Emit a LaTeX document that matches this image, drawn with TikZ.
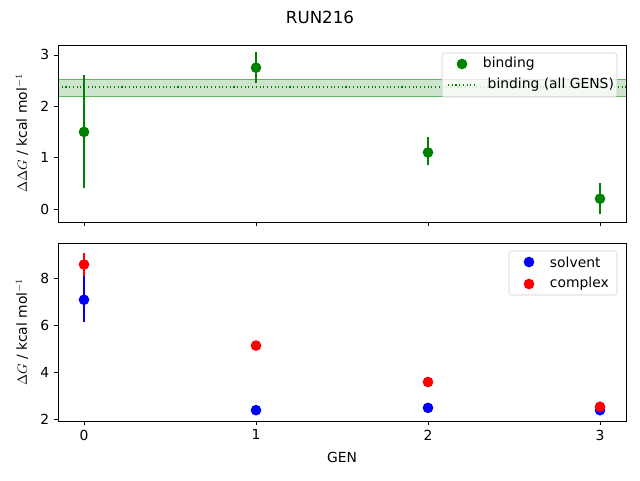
\documentclass[tikz,border=0pt]{standalone}
\usepackage{fontspec}
\setmainfont{DejaVu Sans}
\usetikzlibrary{positioning}
\definecolor{mplgreen}{RGB}{0,128,0}
\tikzset{
  tick/.style = {font=\fontsize{10.4}{12}\selectfont},
  point/.style = {circle, inner sep=0pt, minimum size=8pt},
  errbar/.style = {line width=1.1pt},
}
\begin{document}
\begin{tikzpicture}[x=0.75pt, y=-0.75pt]
  \useasboundingbox (0,0) rectangle (640,480);
  % top panel: dG binding, y(v) = 209 - 51.4 v
  \fill[mplgreen!20] (58,79) rectangle (626,96);
  \draw[mplgreen!60, line width=0.6pt] (58,79) -- (626,79) (58,96) -- (626,96);
  \draw[mplgreen, dotted, thick] (58,87) -- (626,87);
  \foreach \g/\v/\lo/\hi in {0/1.5/0.4/2.6, 1/2.75/2.45/3.05, 2/1.1/0.85/1.4, 3/0.2/-0.1/0.5} {
    \draw[errbar, mplgreen] (84+172*\g, 209-51.4*\lo) -- (84+172*\g, 209-51.4*\hi);
    \node[point, fill=mplgreen] at (84+172*\g, 209-51.4*\v) {};
  }
  \draw (58,45) rectangle (626,222);
  \foreach \v in {0,1,2,3}
    \draw (58,209-51.4*\v) -- ++(-4,0) node[tick, left] {\v};
  \foreach \g in {0,1,2,3}
    \draw (84+172*\g,222) -- ++(0,4);
  \node[tick, rotate=90] (ylabtop) at (22,133) {$\Delta\Delta G$ / kcal mol$^{-1}$};
  % top legend
  \draw[black!20, fill=white, fill opacity=0.8, rounded corners=2pt] (442,53) rectangle (617,97);
  \node[point, fill=mplgreen] (legbind) at (462,64) {};
  \node[tick, right=8pt of legbind] {binding};
  \draw[mplgreen, dotted, thick] (448,85) -- (476,85);
  \node[tick, anchor=west] (legall) at (483,85) {binding (all GENS)};
  % bottom panel: dG, y(v) = 466.6 - 23.5 v
  \foreach \g/\v/\lo/\hi in {0/7.1/6.15/8.1, 1/2.4/2.35/2.45, 2/2.5/2.45/2.55, 3/2.4/2.35/2.45} {
    \draw[errbar, blue] (84+172*\g, 466.6-23.5*\lo) -- (84+172*\g, 466.6-23.5*\hi);
    \node[point, fill=blue] at (84+172*\g, 466.6-23.5*\v) {};
  }
  \foreach \g/\v/\lo/\hi in {0/8.6/8.1/9.1, 1/5.15/4.95/5.35, 2/3.6/3.4/3.8, 3/2.55/2.35/2.75} {
    \draw[errbar, red] (84+172*\g, 466.6-23.5*\lo) -- (84+172*\g, 466.6-23.5*\hi);
    \node[point, fill=red] at (84+172*\g, 466.6-23.5*\v) {};
  }
  \draw (58,243) rectangle (626,421);
  \foreach \v in {2,4,6,8}
    \draw (58,466.6-23.5*\v) -- ++(-4,0) node[tick, left] {\v};
  \foreach \g in {0,1,2,3}
    \draw (84+172*\g,421) -- ++(0,4) node[tick, below] {\g};
  \node[tick, rotate=90] (ylabbot) at (22,332) {$\Delta G$ / kcal mol$^{-1}$};
  % bottom legend
  \draw[black!20, fill=white, rounded corners=2pt] (509,251) rectangle (617,295);
  \node[point, fill=blue] (legsolv) at (529,262) {};
  \node[tick, right=8pt of legsolv] {solvent};
  \node[point, fill=red] (legcomp) at (529,284) {};
  \node[tick, right=8pt of legcomp] {complex};
  % labels
  \node[tick] (xlab) at (342,457) {GEN};
  \node[font=\fontsize{12.5}{14}\selectfont] (title) at (320,17) {RUN216};
\end{tikzpicture}
\end{document}
